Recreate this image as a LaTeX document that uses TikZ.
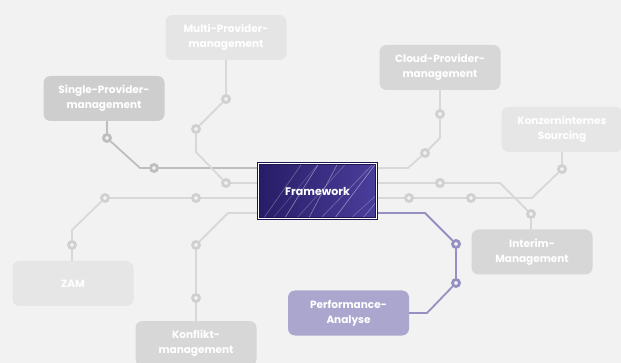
\documentclass[tikz,border=0pt]{standalone}
\usepackage{fontspec}
\setmainfont{Poppins}
\usetikzlibrary{positioning}

\definecolor{bggray}{HTML}{F2F2F2}
\definecolor{boxgray}{HTML}{E2E2E2}
\definecolor{linegray}{HTML}{D8D8D8}
\definecolor{ringgray}{HTML}{D0D0D0}
\definecolor{darkgray}{HTML}{BEBEBE}
\definecolor{fwblue}{HTML}{271C66}
\definecolor{fwlight}{HTML}{4A3E9C}
\definecolor{fwedge}{HTML}{1E1650}
\definecolor{palila}{HTML}{AAA6CE}
\definecolor{palinie}{HTML}{9490C2}

\pgfdeclarelayer{bg}
\pgfdeclarelayer{lines}
\pgfsetlayers{bg,lines,main}

\begin{document}
\begin{tikzpicture}[x=1pt,y=-1pt,
  box/.style={rounded corners=7pt,fill=boxgray,minimum width=121pt,minimum height=45pt,
    inner sep=0pt,align=center,text=white,font=\fontsize{10.5}{15}\selectfont\bfseries},
  hub/.style={circle,draw=ringgray,line width=2.8pt,fill=bggray,minimum size=7pt,inner sep=0pt},
  wire/.style={draw=linegray,line width=1.8pt,line join=round}]
\clip (0,0) rectangle (621,363);
\begin{pgfonlayer}{bg}
\fill[bggray] (0,0) rectangle (621,363);
\end{pgfonlayer}

% boxes
\node at (317.5,191) [draw=fwedge,line width=1pt,double=white,double distance=0.8pt,
  left color=fwblue,right color=fwlight,minimum width=118pt,minimum height=55pt,
  text=white,font=\fontsize{11}{15}\selectfont\bfseries,
  path picture={
    \foreach \x/\a/\b in {5/55/0.3,14/50/0.2,26/58/0.45,38/48/0.25,50/62/0.4,62/46/0.3,76/53/0.45,92/42/0.25,104/50/0.35}
      \draw[white,opacity=\b,line width=0.6pt] ([xshift=\x pt]path picture bounding box.south west)
        -- ++(\a:90pt);
  }](fw){Framework};
\node at (226,37.5) [box,fill=boxgray!90](mp){Multi-Provider-\\management};
\node at (104,98.5) [box,fill=darkgray!75](sp){Single-Provider-\\management};
\node at (440,67.5) [box,fill=boxgray!95!black](cp){Cloud-Provider-\\management};
\node at (562,129.5) [box,fill=boxgray!85](ks){Konzerninternes\\Sourcing};
\node at (73,283.5) [box,fill=boxgray!85](zam){ZAM};
\node at (196,343.5) [box,fill=boxgray!95!black](kf){Konflikt-\\management};
\node at (532,252) [box,fill=boxgray!95!black](im){Interim-\\Management};
\node at (348.5,313) [box,fill=palila](pa){Performance-\\Analyse};

% stations
\node at (107,138) [hub,draw=darkgray](sp1){};
\node at (154,168) [hub,draw=darkgray](sp2){};
\node at (226,99) [hub](mp1){};
\node at (196,129) [hub](mp2){};
\node at (226,183) [hub](mp3){};
\node at (72,245) [hub](zm1){};
\node at (105,198) [hub](zm2){};
\node at (196,198) [hub](zm3){};
\node at (196,298) [hub](kf1){};
\node at (196,245) [hub](kf2){};
\node at (440,114) [hub](cp1){};
\node at (425,153) [hub](cp2){};
\node at (562,169) [hub](ks1){};
\node at (471,198) [hub](ks2){};
\node at (409,198) [hub](ks3){};
\node at (531,214) [hub](im1){};
\node at (440,183) [hub](im2){};
\node at (456,244) [hub,draw=palinie](pa1){};
\node at (456,283) [hub,draw=palinie](pa2){};

\coordinate (kfk) at (228,213);
\coordinate (cpk) at (408,168);
\coordinate (pak) at (425,213);

\begin{pgfonlayer}{lines}
\draw[wire,draw=darkgray] (sp1 |- sp.south) -- (sp1) -- (140,168) -- (sp2) -- (sp2 -| fw.west);
\draw[wire] (mp1 |- mp.south) -- (mp1) -- (mp2) -- (196,152) -- (mp3) -- (mp3 -| fw.west);
\draw[wire] (zm1 |- zam.north) -- (zm1) -- (72,230) -- (zm2) -- (zm3) -- (zm3 -| fw.west);
\draw[wire] (kf1 |- kf.north) -- (kf1) -- (kf2) -- (kfk) -- (kfk -| fw.west);
\draw[wire] (cp1 |- cp.south) -- (cp1) -- (440,138) -- (cp2) -- (cpk) -- (cpk -| fw.east);
\draw[wire] (ks1 |- ks.south) -- (ks1) -- (532,198) -- (ks2) -- (ks3) -- (ks3 -| fw.east);
\draw[wire] (im1 |- im.north) -- (im1) -- (500,183) -- (im2) -- (im2 -| fw.east);
\draw[wire,draw=palinie] (pak -| fw.east) -- (pak) -- (pa1) -- (pa2) -- (427,313) -- (pa.east);
\end{pgfonlayer}
\end{tikzpicture}
\end{document}
